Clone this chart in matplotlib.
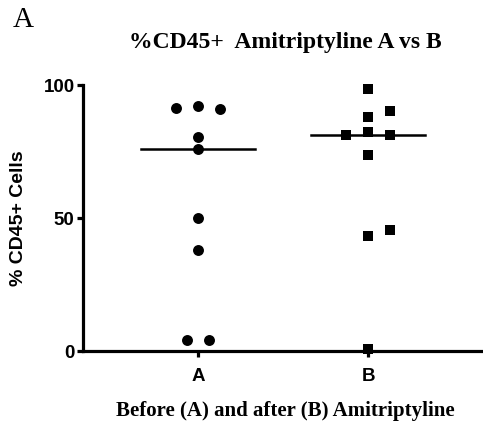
import matplotlib
matplotlib.use("Agg")
import matplotlib.pyplot as plt
import numpy as np

categories = ["A", "B"]
group_a = [91.4, 92.2, 90.9, 80.3, 75.8, 49.9, 37.9, 4.2, 4.2]
offsets_a = [-0.127, 0.0, 0.128, 0.0, 0.0, 0.0, 0.0, -0.063, 0.063]
group_b = [98.4, 90.2, 87.8, 81.2, 82.2, 81.2, 73.6, 45.6, 43.1, 0.8]
offsets_b = [0.0, 0.128, 0.0, -0.127, 0.0, 0.128, 0.0, 0.128, 0.0, 0.0]
yticks = [0, 50, 100]

fig = plt.figure(figsize=(4.83, 4.25), dpi=100)
ax = fig.add_axes([0.1718, 0.174, 0.8282, 0.626])

ax.scatter(np.array(offsets_a) + 0, group_a, marker="o", s=62, color="black",
           linewidths=0, clip_on=False, zorder=3)
ax.scatter(np.array(offsets_b) + 1, group_b, marker="s", s=62, color="black",
           linewidths=0, clip_on=False, zorder=3)

for i, g in enumerate([group_a, group_b]):
    med = np.median(g)
    ax.plot([i - 0.333, i + 0.333], [med, med], color="black", lw=1.8, zorder=2)

ax.set_xlim(-0.676, 1.676)
ax.set_ylim(0, 100)
ax.set_yticks(yticks)
ax.set_xticks([0, 1])
ax.set_xticklabels(categories)

for s in ["top", "right"]:
    ax.spines[s].set_visible(False)
for s in ["left", "bottom"]:
    ax.spines[s].set_linewidth(2.3)

ax.tick_params(axis="y", length=4, width=2.3, pad=2)
ax.tick_params(axis="x", length=4, width=2.3, pad=8)
for lab in ax.get_yticklabels() + ax.get_xticklabels():
    lab.set_fontfamily("Liberation Sans")
    lab.set_fontweight("bold")
    lab.set_fontsize(13.5)

ax.set_ylabel("% CD45+ Cells", fontfamily="Liberation Sans", fontweight="bold",
              fontsize=14, labelpad=12)

fig.text(285 / 483, 1 - 48 / 425, "%CD45+  Amitriptyline A vs B", ha="center",
         va="baseline", fontfamily="Liberation Serif", fontweight="bold", fontsize=17)
fig.text(285 / 483, 1 - 416 / 425, "Before (A) and after (B) Amitriptyline", ha="center",
         va="baseline", fontfamily="Liberation Serif", fontweight="bold", fontsize=15)
fig.text(13 / 483, 1 - 27 / 425, "A", ha="left", va="baseline",
         fontfamily="Liberation Serif", fontsize=21)

fig.savefig("out.png", dpi=100)
